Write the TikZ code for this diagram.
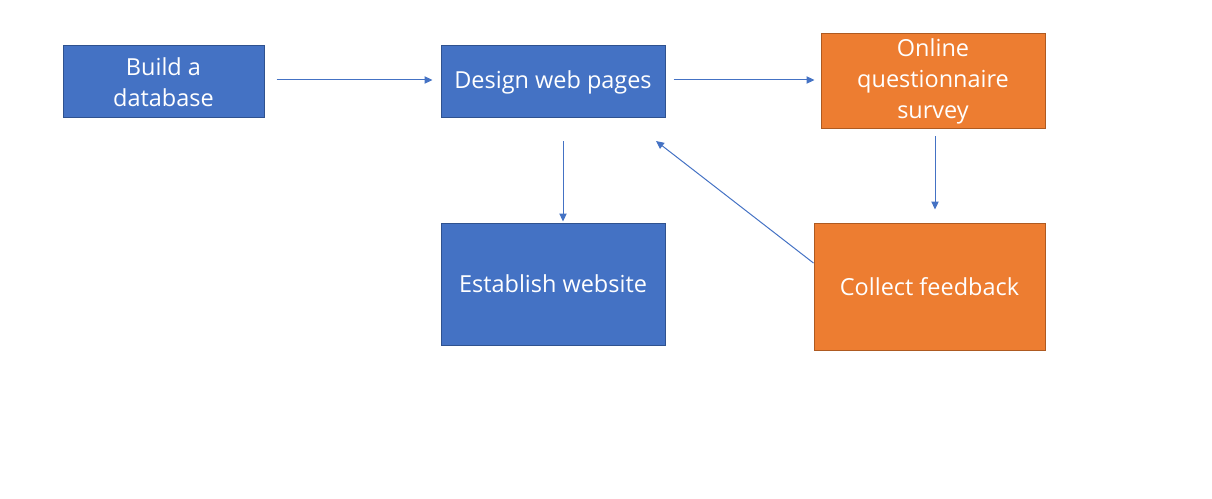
\documentclass[tikz,border=0pt]{standalone}
\usepackage{fontspec}
\setmainfont{Open Sans}
\usetikzlibrary{arrows.meta}
\definecolor{boxblue}{HTML}{4472C4}
\definecolor{edgeblue}{HTML}{2F528F}
\definecolor{boxorange}{HTML}{ED7D31}
\definecolor{edgeorange}{HTML}{AE5A21}
\begin{document}
\begin{tikzpicture}[x=0.75pt,y=-0.75pt]
\tikzset{bluebox/.style={rectangle,fill=boxblue,draw=edgeblue,line width=0.75pt,text=white,align=center,font=\fontsize{17.6}{23.25}\selectfont,inner sep=0pt},
orangebox/.style={bluebox,fill=boxorange,draw=edgeorange},
arr/.style={draw=boxblue,line width=0.75pt,-{Triangle[length=6pt,width=5.5pt]}}}
\useasboundingbox (0,0) rectangle (1212,499);
\node (db) at (163.5,82) [bluebox,minimum width=150.75pt,minimum height=54pt] {Build a\\database};
\node (web) at (553,82) [bluebox,minimum width=168pt,minimum height=54pt] {Design web pages};
\node (survey) at (933,81.5) [orangebox,minimum width=168pt,minimum height=71.25pt] {Online\\questionnaire\\survey};
\node (est) at (553,284) [bluebox,minimum width=168pt,minimum height=91.5pt] {Establish website};
\node (fb) at (929.5,286.5) [orangebox,minimum width=173.25pt,minimum height=95.25pt] {Collect feedback};
\coordinate (fbend) at (656,141);
\draw[arr,shorten <=9pt,shorten >=6pt] ([yshift=1.5pt]db.east) -- ([yshift=1.5pt]web.west);
\draw[arr,shorten <=6pt,shorten >=4.5pt] ([yshift=1.5pt]web.east) -- ([yshift=1.5pt]web.east -| survey.west);
\draw[arr,shorten <=17pt,shorten >=0.75pt] ([xshift=7.5pt]web.south) -- ([xshift=7.5pt]web.south |- est.north);
\draw[arr,shorten <=5pt,shorten >=9.75pt] ([xshift=1.5pt]survey.south) -- ([xshift=1.5pt]survey.south |- fb.north);
\draw[arr] ([yshift=17.6pt]fb.west) -- (fbend);
\end{tikzpicture}
\end{document}
